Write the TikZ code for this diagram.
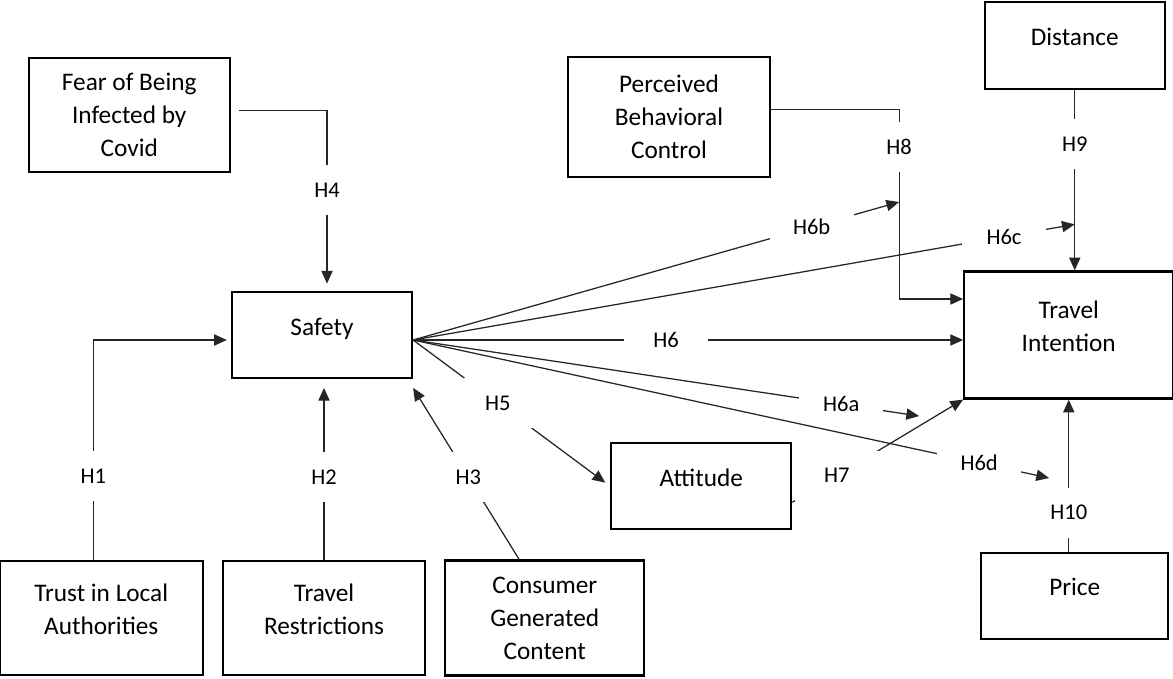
\documentclass[tikz,border=0pt]{standalone}
\usepackage{fontspec}
\setmainfont{Carlito}
\usepackage{tikz}
\usetikzlibrary{arrows.meta, positioning, calc}

\newcommand{\upstrut}{\rule{0pt}{5mm}}
\newcommand{\downstrut}{\rule[-5mm]{0pt}{0pt}}

\begin{document}
\begin{tikzpicture}[
    font=\fontsize{18}{23.5}\selectfont,
    >={Triangle[length=3.2mm, width=2.8mm]},
    box/.style={rectangle, draw=black, line width=1.6pt, fill=white, text centered, align=center, inner sep=0pt, minimum width=4.5cm, minimum height=2.15cm},
    arrow/.style={->, draw=black!85, line width=0.9pt},
    hyp/.style={fill=white, font=\fontsize{16}{19}\selectfont, minimum width=2.1cm, minimum height=1.25cm, inner sep=0pt}
]
\useasboundingbox (0,0) rectangle (29.325,-16.975);

% Nodes
\node (safety) [box] at (8.05,-8.375) {\upstrut Safety\downstrut};
\node (fear) [box, above left=2.95cm and 0cm of safety, minimum width=5.025cm, minimum height=2.85cm] {Fear of Being\\Infected by\\Covid};
\node (pbc) [box, right=8.4cm of fear, yshift=-0.6mm, minimum width=5.05cm, minimum height=3cm] {Perceived\\Behavioral\\Control};

\node (trust) [box, below left=4.52cm and 0.675cm of safety, minimum width=5.075cm, minimum height=2.85cm] {\upstrut Trust in Local\\Authorities\downstrut};
\node (restrict) [box, right=0.45cm of trust, minimum width=5.05cm, minimum height=2.85cm] {\upstrut Travel\\Restrictions\downstrut};
\node (cgc) [box, right=0.45cm of restrict, minimum width=4.975cm, minimum height=2.875cm] {Consumer\\Generated\\Content};

\node (attitude) [box, below right=1.575cm and 4.925cm of safety] {\upstrut Attitude\downstrut};
\node (intention) [box, right=13.75cm of safety, minimum width=5.225cm, minimum height=3.175cm] {\upstrut Travel\\Intention\downstrut};
\node (distance) [box, above=4.5cm of intention, xshift=1.5mm, minimum height=2.175cm] {\upstrut Distance\downstrut};
\node (price) [box, below=3.8cm of intention, xshift=1.5mm, minimum width=4.675cm] {\upstrut Price\downstrut};

\coordinate (hub) at ([yshift=-1.25mm]safety.east);
\coordinate (h8bend) at ([xshift=-1.6cm, yshift=0.9cm]intention.west);
\coordinate (h6b) at ([yshift=2.425cm]h8bend);
\coordinate (h6c) at ($(distance.south |- intention.north)+(0,1.15)$);
\coordinate (h6a) at ([xshift=-1.1cm, yshift=-0.41cm]intention.south west);
\coordinate (h6d) at ([xshift=2.15cm, yshift=-1.96cm]intention.south west);

% Paths
\draw [arrow, shorten >=1mm] ([xshift=-2mm]trust.north) |- node[hyp, pos=0.19] {H1} (hub -| safety.west);
\draw [arrow, shorten >=2.2mm] (restrict.north) -- node[hyp, pos=0.46] {H2} (restrict.north |- safety.south);
\draw [arrow] ([xshift=-6.4mm]cgc.north) -- node[hyp, pos=0.48] {H3} ([yshift=-2.2mm]safety.south east);
\draw [arrow, shorten >=1.8mm] ([xshift=2mm, yshift=1mm]fear.east) -| node[hyp, pos=0.72] {H4} ([xshift=1.25mm]safety.north);

\draw [arrow, shorten >=1.5mm] (hub) -- node[hyp, pos=0.43] {H5} (attitude.west);
\draw [arrow] (hub) -- node[hyp, pos=0.46] {H6} (hub -| intention.west);
\draw [arrow] (hub) -- node[hyp, pos=0.846] {H6a} (h6a);
\draw [arrow] (hub) -- node[hyp, pos=0.82] {H6b} (h6b);
\draw [arrow] (hub) -- node[hyp, pos=0.893] {H6c} (h6c);
\draw [arrow] (hub) -- node[hyp, pos=0.89] {H6d} (h6d);

\draw [arrow] ([yshift=-4mm]attitude.east) -- node[hyp, pos=0.26] {H7} (intention.south west);
\draw [arrow] ([yshift=2mm]pbc.east) -| node[hyp, pos=0.6] {H8} (h8bend) -- (h8bend -| intention.west);
\draw [arrow] (distance.south) -- node[hyp, pos=0.3] {H9} (distance.south |- intention.north);
\draw [arrow] (intention.south |- price.north) -- node[hyp, pos=0.256] {H10} (intention.south);

\end{tikzpicture}
\end{document}
